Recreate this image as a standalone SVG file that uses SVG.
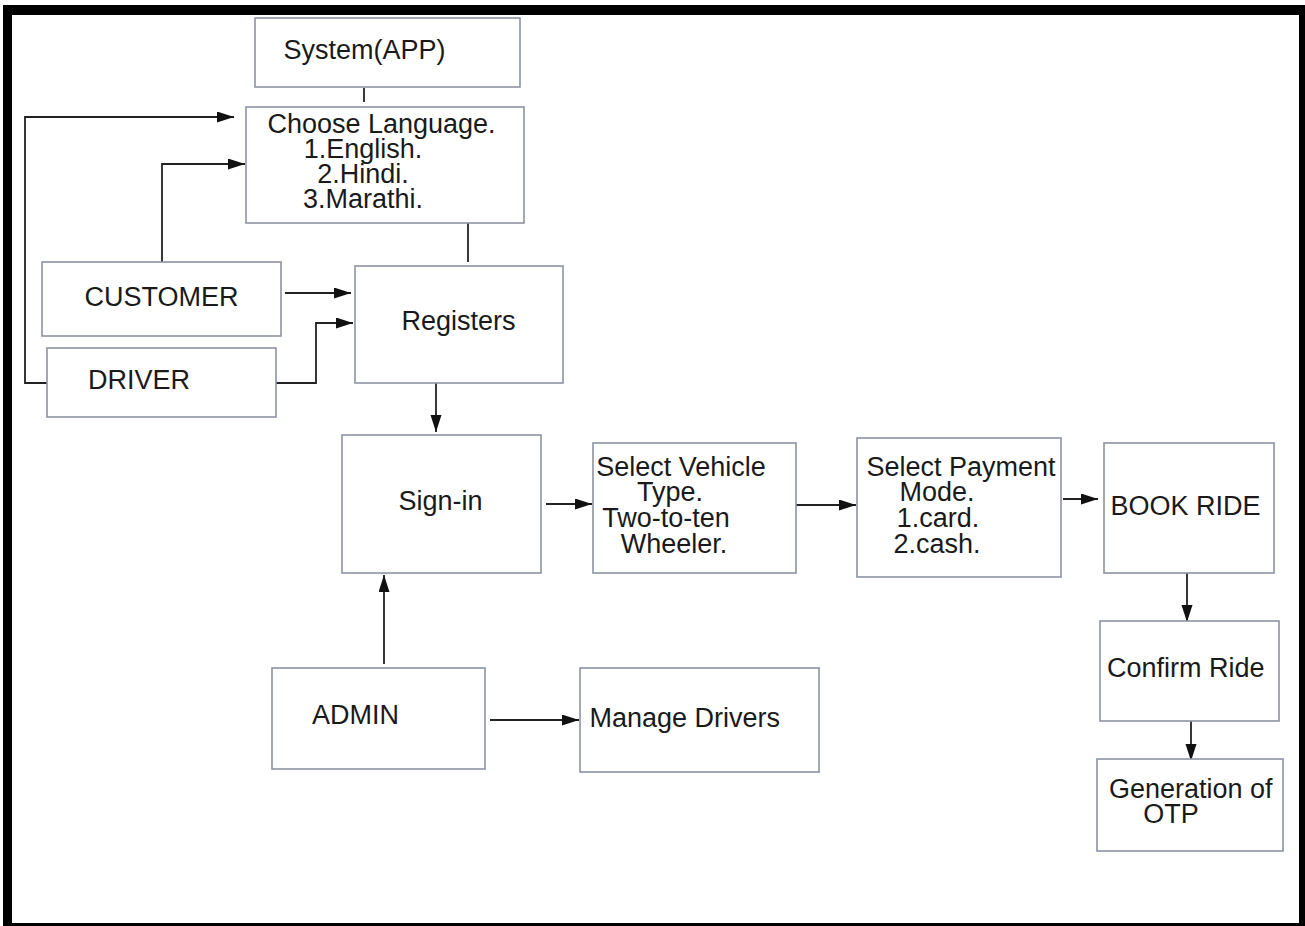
<svg xmlns="http://www.w3.org/2000/svg" width="1305" height="926" viewBox="0 0 1305 926">
<style>
.box{fill:#fff;stroke:#8c94a2;stroke-width:1.6}
.t{font-family:"Liberation Sans",Arial,sans-serif;font-size:27px;fill:#1a1a1a}
.m{text-anchor:middle}
.c{fill:none;stroke:#222;stroke-width:1.8}
</style>
<defs>
<marker id="ah" markerUnits="userSpaceOnUse" markerWidth="18" markerHeight="12" refX="17" refY="5.5" orient="auto">
<path d="M0,0 L17,5.5 L0,11 z" fill="#111"/>
</marker>
</defs>
<rect x="0" y="0" width="1305" height="926" fill="#fff"/>
<rect x="3" y="5" width="1302" height="921" fill="#000"/>
<rect x="12" y="15" width="1287" height="908" fill="#fff"/>

<g id="connectors">
<path class="c" d="M364,88 V102"/>
<path class="c" d="M468,223 V262"/>
<path class="c" d="M162,262 V164 H245" marker-end="url(#ah)"/>
<path class="c" d="M47,383 H25 V117 H234" marker-end="url(#ah)"/>
<path class="c" d="M285,293 H351" marker-end="url(#ah)"/>
<path class="c" d="M276,383 H316 V323 H353" marker-end="url(#ah)"/>
<path class="c" d="M436,383 V432" marker-end="url(#ah)"/>
<path class="c" d="M546,504 H592" marker-end="url(#ah)"/>
<path class="c" d="M796,505 H856" marker-end="url(#ah)"/>
<path class="c" d="M1063,499 H1098" marker-end="url(#ah)"/>
<path class="c" d="M384,664 V575" marker-end="url(#ah)"/>
<path class="c" d="M490,720 H579" marker-end="url(#ah)"/>
<path class="c" d="M1187,573 V622" marker-end="url(#ah)"/>
<path class="c" d="M1191,721 V761" marker-end="url(#ah)"/>
</g>

<g id="system">
<rect class="box" x="255" y="18" width="265" height="69"/>
<text class="t m" x="364.5" y="59">System(APP)</text>
</g>
<g id="language">
<rect class="box" x="246" y="107" width="278" height="116"/>
<text class="t m" x="381.5" y="133">Choose Language.</text>
<text class="t m" x="363" y="158">1.English.</text>
<text class="t m" x="363" y="183">2.Hindi.</text>
<text class="t m" x="363" y="208">3.Marathi.</text>
</g>
<g id="customer">
<rect class="box" x="42" y="262" width="239" height="74"/>
<text class="t m" x="161.5" y="306">CUSTOMER</text>
</g>
<g id="driver">
<rect class="box" x="47" y="348" width="229" height="69"/>
<text class="t" x="88" y="389">DRIVER</text>
</g>
<g id="registers">
<rect class="box" x="355" y="266" width="208" height="117"/>
<text class="t m" x="458.6" y="330">Registers</text>
</g>
<g id="signin">
<rect class="box" x="342" y="435" width="199" height="138"/>
<text class="t m" x="440.4" y="510">Sign-in</text>
</g>
<g id="vehicle">
<rect class="box" x="593" y="443" width="203" height="130"/>
<text class="t m" x="681" y="476">Select Vehicle</text>
<text class="t m" x="670" y="501">Type.</text>
<text class="t m" x="666" y="527">Two-to-ten</text>
<text class="t m" x="674" y="553">Wheeler.</text>
</g>
<g id="payment">
<rect class="box" x="857" y="438" width="204" height="139"/>
<text class="t m" x="961" y="476">Select Payment</text>
<text class="t m" x="937" y="501">Mode.</text>
<text class="t m" x="938" y="527">1.card.</text>
<text class="t m" x="937" y="553">2.cash.</text>
</g>
<g id="book">
<rect class="box" x="1104" y="443" width="170" height="130"/>
<text class="t m" x="1185.4" y="515">BOOK RIDE</text>
</g>
<g id="admin">
<rect class="box" x="272" y="668" width="213" height="101"/>
<text class="t" x="312" y="724">ADMIN</text>
</g>
<g id="manage">
<rect class="box" x="580" y="668" width="239" height="104"/>
<text class="t m" x="684.7" y="727">Manage Drivers</text>
</g>
<g id="confirm">
<rect class="box" x="1100" y="621" width="179" height="100"/>
<text class="t m" x="1185.7" y="677">Confirm Ride</text>
</g>
<g id="otp">
<rect class="box" x="1097" y="759" width="186" height="92"/>
<text class="t m" x="1190.7" y="798">Generation of</text>
<text class="t m" x="1171" y="823">OTP</text>
</g>
</svg>
